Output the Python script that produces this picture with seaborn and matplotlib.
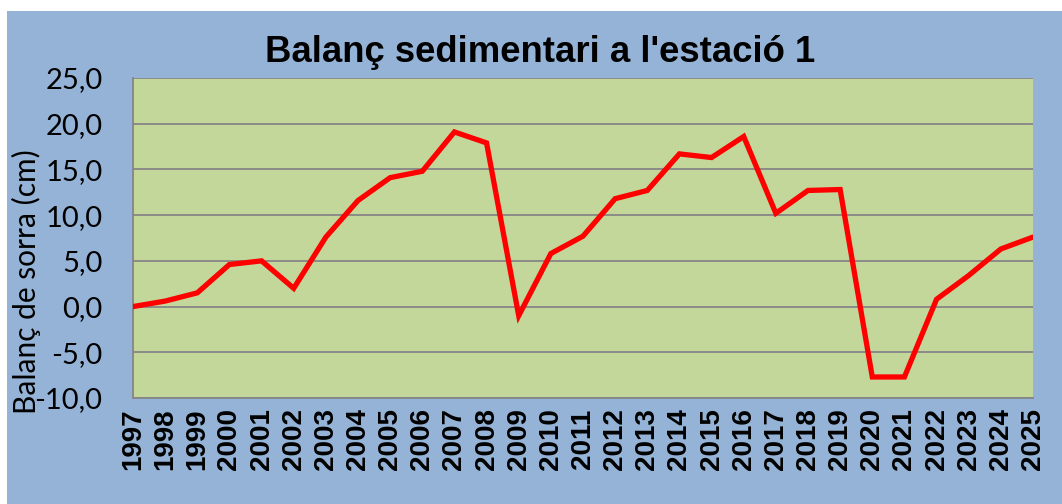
import matplotlib
matplotlib.use("Agg")
import matplotlib.pyplot as plt
from matplotlib.patches import Rectangle
import seaborn as sns
import pandas as pd

years = list(range(1997, 2026))
balance = [0.0, 0.6, 1.5, 4.6, 5.0, 2.0, 7.6, 11.6, 14.1, 14.8, 19.1, 17.9, -1.0,
           5.8, 7.7, 11.8, 12.7, 16.7, 16.3, 18.6, 10.2, 12.7, 12.8, -7.7, -7.7,
           0.8, 3.4, 6.3, 7.6]
y_ticks = [-10, -5, 0, 5, 10, 15, 20, 25]

df = pd.DataFrame({"year": years, "balance": balance})

sns.set_style("white")
plt.rcParams['font.family'] = ['Lato', 'DejaVu Sans']
plt.rcParams['text.color'] = 'black'
plt.rcParams['axes.labelcolor'] = 'black'

fig = plt.figure(figsize=(10.62, 5.04), dpi=100, facecolor="white")
# blue chart background with a thin white border on top/left
fig.patches.append(Rectangle((7 / 1062, 0), 1, 1 - 11 / 504, transform=fig.transFigure,
                             facecolor="#95B3D7", edgecolor="none", zorder=-5))

ax = fig.add_axes([133 / 1062, 106 / 504, 900 / 1062, 320 / 504])
ax.set_facecolor("#C4D79B")

sns.lineplot(data=df, x="year", y="balance", color="#FF0000", linewidth=3.8, ax=ax,
             solid_joinstyle="miter", zorder=3)

ax.set_xlim(1997, 2025)
ax.set_ylim(-10, 25)
ax.set_yticks(y_ticks)
ax.set_yticklabels([f"{v:.1f}".replace(".", ",") for v in y_ticks], fontsize=21)
ax.set_xticks(years)
ax.set_xticklabels([str(y) for y in years], rotation=90, fontsize=20,
                   fontweight="bold", family=["Liberation Sans", "DejaVu Sans"])

ax.grid(axis="y", color="#868686", linewidth=1.3)
ax.set_axisbelow(True)
for s in ["top", "right"]:
    ax.spines[s].set_visible(False)
for s in ["left", "bottom"]:
    ax.spines[s].set_color("#868686")
    ax.spines[s].set_linewidth(1.3)
ax.tick_params(axis="y", length=8, color="#868686", width=1.3, pad=14, labelcolor="black")
ax.tick_params(axis="x", length=4.5, color="#868686", width=1.3, pad=3, labelcolor="black")

ax.set_xlabel("")
ax.set_ylabel("Balanç de sorra (cm)", fontsize=21.5)
ax.yaxis.set_label_coords(-0.102, 0.3625)

fig.text(540 / 1062, 1 - 53 / 504, "Balanç sedimentari a l'estació 1", ha="center",
         va="center", fontsize=26.3, fontweight="bold", color="black",
         family=["Liberation Sans", "DejaVu Sans"])

fig.savefig("out.png", dpi=100, facecolor=fig.get_facecolor())
